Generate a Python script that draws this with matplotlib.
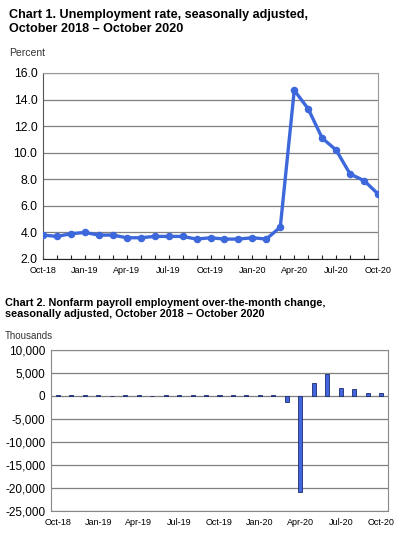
import numpy as np
import matplotlib
matplotlib.use("Agg")
import matplotlib.pyplot as plt

plt.rcParams['font.family'] = ['Liberation Sans', 'DejaVu Sans']

months = ['Oct-18', 'Nov-18', 'Dec-18', 'Jan-19', 'Feb-19', 'Mar-19', 'Apr-19', 'May-19',
          'Jun-19', 'Jul-19', 'Aug-19', 'Sep-19', 'Oct-19', 'Nov-19', 'Dec-19', 'Jan-20',
          'Feb-20', 'Mar-20', 'Apr-20', 'May-20', 'Jun-20', 'Jul-20', 'Aug-20', 'Sep-20', 'Oct-20']

# Unemployment rate, percent
unemp_rate = [3.8, 3.7, 3.9, 4.0, 3.8, 3.8, 3.6, 3.6, 3.7, 3.7, 3.7, 3.5, 3.6, 3.5, 3.5, 3.6,
              3.5, 4.4, 14.7, 13.3, 11.1, 10.2, 8.4, 7.9, 6.9]

# Nonfarm payroll over-the-month change, thousands
payroll_change = [160, 200, 220, 300, 10, 150, 210, 60, 180, 160, 210, 190, 190, 260, 180, 210,
                  260, -1370, -20790, 2730, 4780, 1760, 1490, 670, 640]

label_idx = list(range(0, len(months), 3))
label_txt = [months[i] for i in label_idx]

line_color = '#3C68DC'
grid_color = '#7f7f7f'

fig = plt.figure(figsize=(4, 5.33), dpi=100)

# ---- Chart 1 ----
fig.text(9 / 400, 1 - 9 / 533, 'Chart 1. Unemployment rate, seasonally adjusted,\nOctober 2018 \u2013 October 2020',
         fontsize=9.1, fontweight='bold', va='top', ha='left', linespacing=1.2)
fig.text(9 / 400, 1 - 53 / 533, 'Percent', fontsize=7.5, va='center', ha='left', color='#333333')

ax1 = fig.add_axes([43 / 400, 1 - 259 / 533, 335 / 400, 186 / 533])
x = np.arange(len(months))
ax1.plot(x, unemp_rate, color=line_color, lw=2.4, marker='o', markersize=4.4, zorder=3)
ax1.set_xlim(0, len(months) - 1)
ax1.set_ylim(2, 16)
ax1.set_yticks(np.arange(2, 16.1, 2))
ax1.set_yticklabels([f'{v:.1f}' for v in np.arange(2, 16.1, 2)], fontsize=8.8)
ax1.set_xticks(label_idx)
ax1.set_xticklabels(label_txt, fontsize=6.5)
ax1.set_xticks(x, minor=True)
ax1.tick_params(axis='x', which='both', direction='in', length=3, width=0.8, color='#222222', pad=5)
ax1.tick_params(axis='y', length=0, pad=4)
ax1.grid(axis='y', color=grid_color, lw=0.9)
for s in ['top', 'right']:
    ax1.spines[s].set_color('#999999')
ax1.spines['left'].set_color('#555555')
ax1.spines['bottom'].set_color('#222222')
ax1.set_axisbelow(True)

# ---- Chart 2 ----
fig.text(5 / 400, 1 - 298 / 533,
         'Chart 2. Nonfarm payroll employment over-the-month change,\nseasonally adjusted, October 2018 \u2013 October 2020',
         fontsize=7.8, fontweight='bold', va='top', ha='left', linespacing=1.15)
fig.text(5 / 400, 1 - 336 / 533, 'Thousands', fontsize=7, va='center', ha='left', color='#333333')

ax2 = fig.add_axes([51 / 400, 1 - 511 / 533, 337 / 400, 161 / 533])
ax2.bar(x, payroll_change, width=0.3, color='#4466DD', edgecolor='#1a2a70', lw=0.6, zorder=3)
ax2.set_xlim(-0.5, len(months) - 0.5)
ax2.set_ylim(-25000, 10000)
yt = np.arange(-25000, 10001, 5000)
ax2.set_yticks(yt)
ax2.set_yticklabels([f'{v:,}' for v in yt], fontsize=8.5)
ax2.set_xticks(label_idx)
ax2.set_xticklabels(label_txt, fontsize=6.5)
ax2.tick_params(axis='both', length=0)
ax2.tick_params(axis='x', pad=5)
ax2.tick_params(axis='y', pad=4)
ax2.grid(axis='y', color=grid_color, lw=0.9)
for s in ax2.spines.values():
    s.set_color('#888888')
ax2.set_axisbelow(True)

fig.savefig('out.png', dpi=100)
